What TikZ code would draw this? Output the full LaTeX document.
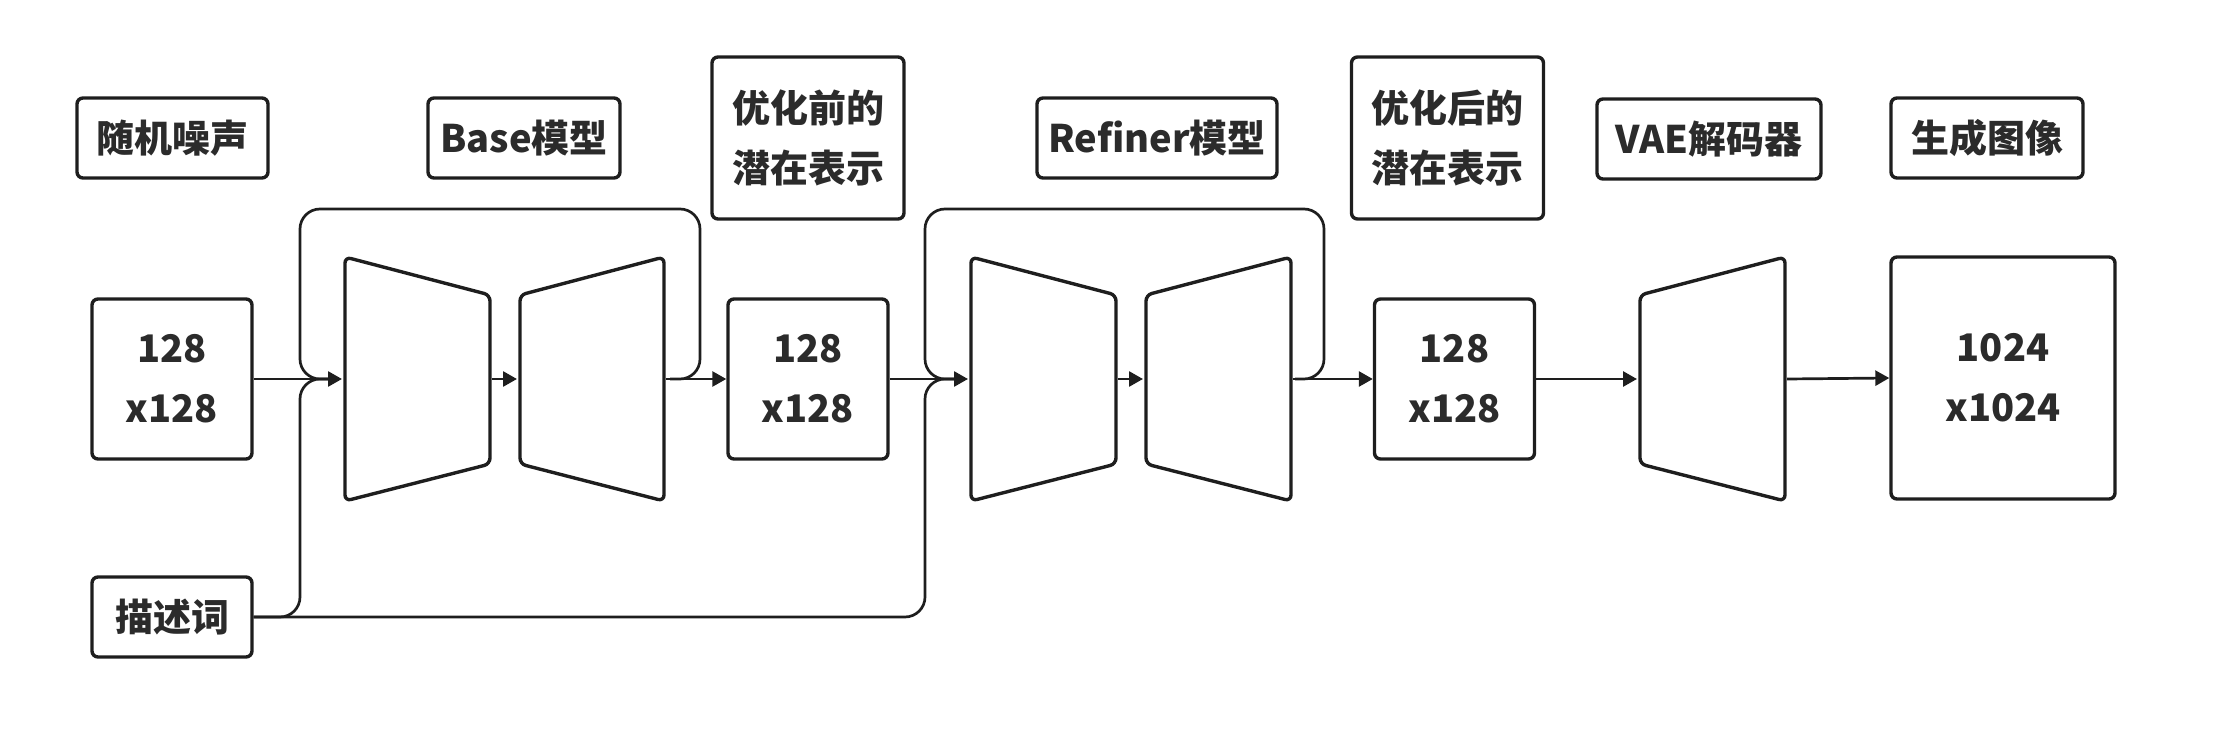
\documentclass[tikz,border=0pt]{standalone}
\usepackage{fontspec}
\setmainfont{Noto Sans CJK SC}
\usetikzlibrary{arrows.meta,positioning}
\definecolor{ink}{HTML}{1E1E1E}
\definecolor{txt}{HTML}{2B2B2B}
\tikzset{
  box/.style={draw=ink, line width=1.7pt, rounded corners=3pt, align=center,
    text=txt, font=\bfseries\fontsize{19}{30}\selectfont, inner sep=0pt},
  link/.style={draw=ink, line width=1.35pt},
  arr/.style={link, -{Triangle[length=7pt,width=7.5pt]}},
  unet/.style={draw=ink, line width=1.7pt, rounded corners=3pt, line join=round},
}

\begin{document}
\begin{tikzpicture}[x=0.5pt,y=0.5pt]
\useasboundingbox (0,0) rectangle (2224,735);

% titles
\node[box, minimum width=95.5pt, minimum height=40pt] (tNoise) at (172.5,597) {随机噪声};
\node[box, minimum width=96pt, minimum height=40pt] (tBase) at (524,597) {Base模型};
\node[box, minimum width=96pt, minimum height=81pt] (tPre) at (808,597) {优化前的\\潜在表示};
\node[box, minimum width=120pt, minimum height=40pt] (tRef) at (1157,597) {Refiner模型};
\node[box, minimum width=96pt, minimum height=81pt] (tPost) at (1447.5,597) {优化后的\\潜在表示};
\node[box, minimum width=112pt, minimum height=40pt] (tVae) at (1709,596) {VAE解码器};
\node[box, minimum width=96pt, minimum height=40pt] (tOut) at (1987,597) {生成图像};

% data
\node[box, minimum width=80pt, minimum height=80pt] (noise) at (172,356) {128\\x128};
\node[box, minimum width=80pt, minimum height=40pt] (prompt) at (172,118) {描述词};
\node[box, minimum width=80pt, minimum height=80pt] (lat1) at (808,356) {128\\x128};
\node[box, minimum width=80pt, minimum height=80pt] (lat2) at (1454.5,356) {128\\x128};
\node[box, minimum width=112pt, minimum height=121pt] (img) at (2003,357) {1024\\x1024};

% unets
\draw[unet] (345,478) -- (490,440) -- (490,271) -- (345,234) -- cycle;
\draw[unet] (520,440) -- (664,478) -- (664,234) -- (520,271) -- cycle;
\draw[unet] (971,478) -- (1116,440) -- (1116,271) -- (971,234) -- cycle;
\draw[unet] (1146,440) -- (1291,478) -- (1291,234) -- (1146,271) -- cycle;
\draw[unet] (1640,440) -- (1785,478) -- (1785,234) -- (1640,271) -- cycle;

\coordinate (baseIn) at (342,356);
\coordinate (baseMidA) at (492,356);
\coordinate (baseMidB) at (517,356);
\coordinate (baseOut) at (666,356);
\coordinate (refIn) at (968,356);
\coordinate (refMidA) at (1118,356);
\coordinate (refMidB) at (1143,356);
\coordinate (refOut) at (1293,356);
\coordinate (vaeIn) at (1637,356);
\coordinate (vaeOut) at (1787,356);

% skip loops
\draw[link, rounded corners=10pt] (335,356) -- (300,356) -- (300,526) -- (700,526) -- (700,356) -- (670,356);
\draw[link, rounded corners=10pt] (960,356) -- (925,356) -- (925,526) -- (1324,526) -- (1324,356) -- (1295,356);

% prompt
\draw[link, rounded corners=10pt] (prompt.east) -- (300,118) -- (300,356) -- (335,356);
\draw[link, rounded corners=10pt] (prompt.east) -- (925,118) -- (925,356) -- (960,356);

% main flow
\draw[arr] (noise.east) -- (baseIn);
\draw[arr] (baseMidA) -- (baseMidB);
\draw[arr] (baseOut) -- (lat1.west);
\draw[arr] (lat1.east) -- (refIn);
\draw[arr] (refMidA) -- (refMidB);
\draw[arr] (refOut) -- (lat2.west);
\draw[arr] (lat2.east) -- (vaeIn);
\draw[arr] (vaeOut) -- (img.west);
\end{tikzpicture}
\end{document}
